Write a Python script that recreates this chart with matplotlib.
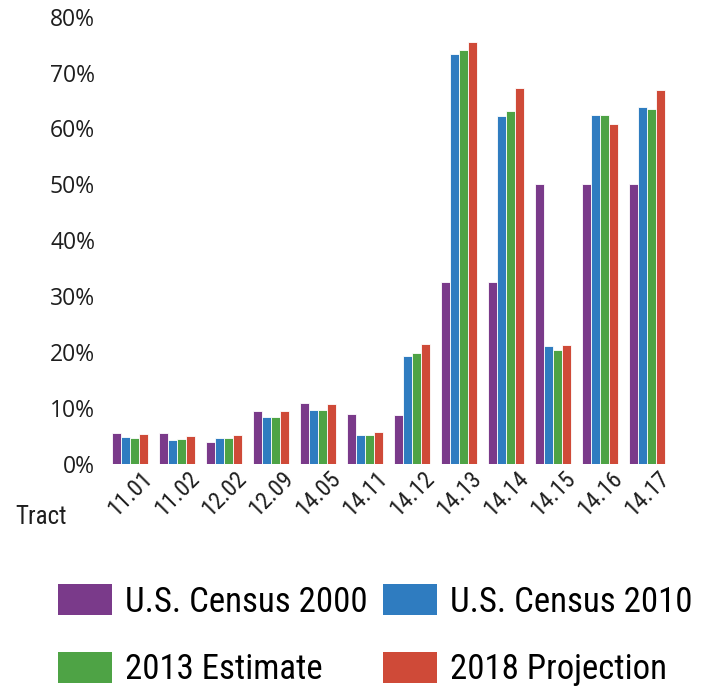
import numpy as np
import matplotlib.pyplot as plt
from matplotlib.patches import Patch

tracts = ["11.01", "11.02", "12.02", "12.09", "14.05", "14.11",
          "14.12", "14.13", "14.14", "14.15", "14.16", "14.17"]

census_2000 = [5.6, 5.6, 4.0, 9.6, 10.9, 9.0, 8.8, 32.6, 32.6, 50.0, 50.0, 50.0]
census_2010 = [4.9, 4.3, 4.7, 8.5, 9.8, 5.2, 19.3, 73.3, 62.2, 21.1, 62.4, 63.8]
estimate_2013 = [4.7, 4.5, 4.7, 8.5, 9.8, 5.2, 19.9, 74.0, 63.2, 20.5, 62.5, 63.4]
projection_2018 = [5.4, 5.0, 5.2, 9.6, 10.7, 5.8, 21.5, 75.4, 67.2, 21.3, 60.8, 66.9]

series = [census_2000, census_2010, estimate_2013, projection_2018]
names = ["U.S. Census 2000", "U.S. Census 2010", "2013 Estimate", "2018 Projection"]
colors = ["#7a3a8a", "#2f7cc0", "#4ea345", "#cf4a38"]

label_font = ["Roboto Condensed", "Liberation Sans", "DejaVu Sans"]
tick_font = ["Open Sans", "DejaVu Sans"]

fig = plt.figure(figsize=(7.08, 6.89), dpi=100)
ax = fig.add_axes([0.150, 0.326, 0.797, 0.650])

x = np.arange(len(tracts))
w = 0.19
for i, (vals, c) in enumerate(zip(series, colors)):
    ax.bar(x + (i - 1.5) * w, vals, width=w, color=c,
           edgecolor="white", linewidth=0.6)

ax.set_xlim(-0.5, len(tracts) - 0.5)
ax.set_ylim(0, 80)
ax.set_yticks(np.arange(0, 81, 10))
ax.set_yticklabels([f"{v}%" for v in range(0, 81, 10)],
                   fontsize=16.5, family=tick_font, color="#1e1e1e")
ax.set_xticks(x)
ax.set_xticklabels(tracts, rotation=45, ha="center", va="top",
                   fontsize=17, family=label_font, color="#1e1e1e")
ax.tick_params(axis="both", length=0)
ax.tick_params(axis="y", pad=8)
ax.tick_params(axis="x", pad=2)
for s in ax.spines.values():
    s.set_visible(False)

fig.text(0.021, 0.250, "Tract", fontsize=18, family=label_font,
         color="#1e1e1e", va="center")

handles = [Patch(facecolor=c, label=n) for c, n in zip(colors, names)]
order = [0, 2, 1, 3]
fig.legend([handles[k] for k in order], [names[k] for k in order],
           ncol=2, loc="upper left", bbox_to_anchor=(0.062, 0.172),
           frameon=False, prop={"family": label_font, "size": 25},
           handlelength=1.55, handleheight=1.0, handletextpad=0.38,
           columnspacing=0.45, labelspacing=0.95, borderaxespad=0)

fig.savefig("out.png", dpi=100)
